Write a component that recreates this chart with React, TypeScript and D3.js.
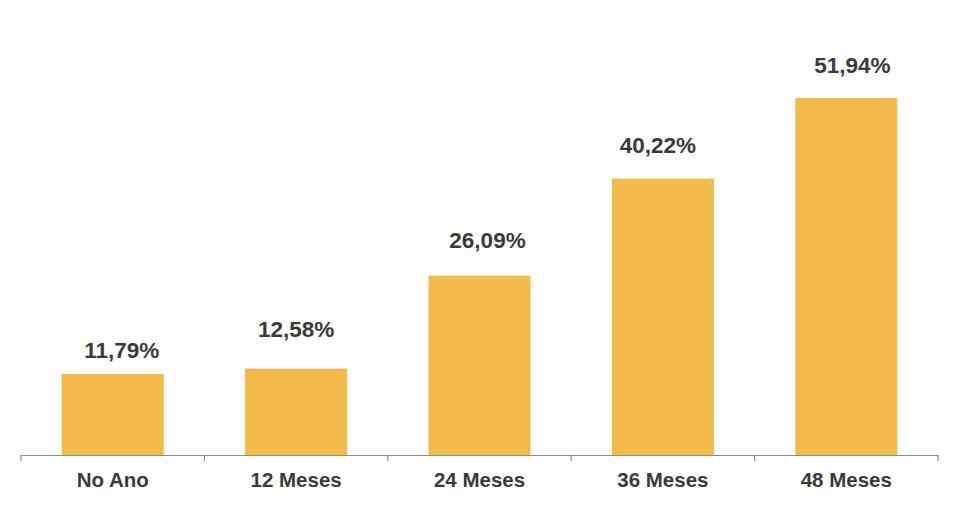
import { useEffect, useRef } from "react";
import * as d3 from "d3";

const categories = ["No Ano", "12 Meses", "24 Meses", "36 Meses", "48 Meses"];
const values = [11.79, 12.58, 26.09, 40.22, 51.94];
const valueLabels = ["11,79%", "12,58%", "26,09%", "40,22%", "51,94%"];

// hand-placed label nudges in the original (dx from bar centre, gap above bar top)
const labelDx = [9, 0, 8, -5, 6];
const labelGap = [16, 32, 28, 26, 25];

export default function App() {
  const svgRef = useRef<SVGSVGElement>(null);

  useEffect(() => {
    if (!svgRef.current) return;
    const svg = d3.select(svgRef.current);
    svg.selectAll("*").remove();

    const width = 960;
    const height = 513;
    const left = 21;
    const right = 938;
    const baseY = 455;

    const x = d3.scaleBand<string>().domain(categories).range([left, right]).paddingInner(0.444).paddingOuter(0.222);
    const y = d3.scaleLinear().domain([0, 51.94]).range([baseY, 98]);

    svg.attr("width", width).attr("height", height);

    // bars
    svg
      .selectAll("rect.bar")
      .data(values)
      .enter()
      .append("rect")
      .attr("class", "bar")
      .attr("x", (_, i) => x(categories[i])!)
      .attr("y", (d) => y(d))
      .attr("width", x.bandwidth())
      .attr("height", (d) => baseY - y(d))
      .attr("fill", "#F2BA48");

    // value labels
    svg
      .selectAll("text.val")
      .data(values)
      .enter()
      .append("text")
      .attr("class", "val")
      .attr("x", (_, i) => x(categories[i])! + x.bandwidth() / 2 + labelDx[i])
      .attr("y", (d, i) => y(d) - labelGap[i])
      .attr("text-anchor", "middle")
      .attr("font-family", "'Liberation Sans', Arial, sans-serif")
      .attr("font-weight", "bold")
      .attr("font-size", 22.5)
      .attr("fill", "#3a3a3a")
      .text((_, i) => valueLabels[i]);

    // axis line and ticks
    const step = (right - left) / categories.length;
    svg
      .append("line")
      .attr("x1", left)
      .attr("x2", right)
      .attr("y1", baseY + 0.5)
      .attr("y2", baseY + 0.5)
      .attr("stroke", "#8c8c8c")
      .attr("stroke-width", 1.2);

    const tickXs = d3.range(categories.length + 1).map((i) => left + i * step);
    svg
      .selectAll("line.tick")
      .data(tickXs)
      .enter()
      .append("line")
      .attr("class", "tick")
      .attr("x1", (d) => d)
      .attr("x2", (d) => d)
      .attr("y1", baseY)
      .attr("y2", baseY + 6)
      .attr("stroke", "#8c8c8c")
      .attr("stroke-width", 1.2);

    // category labels
    svg
      .selectAll("text.cat")
      .data(categories)
      .enter()
      .append("text")
      .attr("class", "cat")
      .attr("x", (d) => x(d)! + x.bandwidth() / 2)
      .attr("y", 487)
      .attr("text-anchor", "middle")
      .attr("font-family", "'Liberation Sans', Arial, sans-serif")
      .attr("font-weight", "bold")
      .attr("font-size", 20.5)
      .attr("fill", "#3a3a3a")
      .text((d) => d);
  }, []);

  return (
    <div style={{ position: "absolute", left: 0, top: 0, width: 960, height: 513, background: "#fff" }}>
      <svg ref={svgRef} style={{ display: "block" }} />
    </div>
  );
}
